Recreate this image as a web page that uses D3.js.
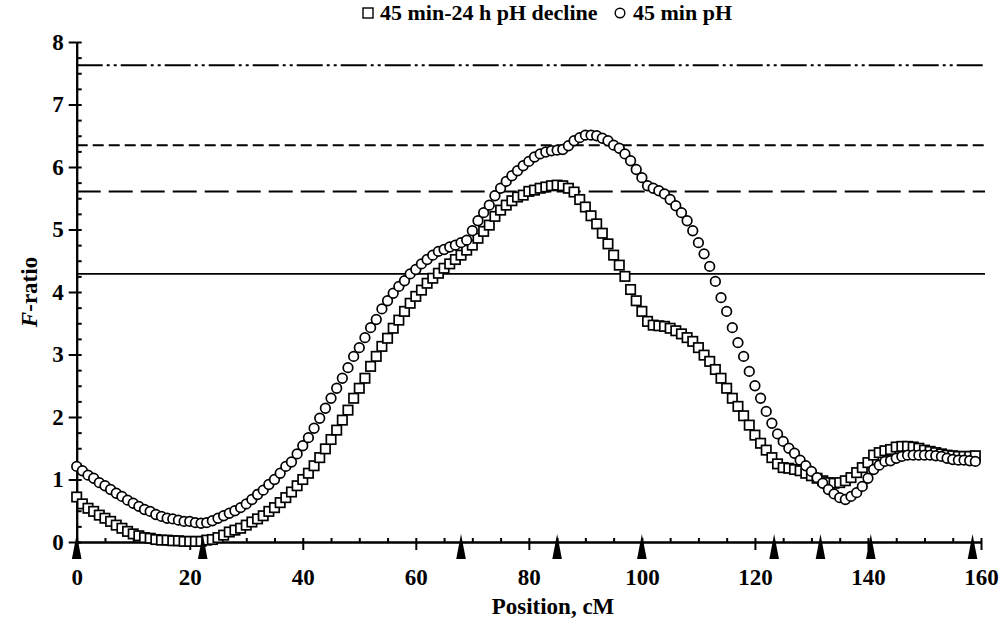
<!DOCTYPE html>
<html lang="en">
<head>
<meta charset="UTF-8">
<title>F-ratio by position</title>
<script src="https://d3js.org/d3.v7.min.js"></script>
<style>
  body { margin: 0; background: #fff; }
  svg text { font-family: "Liberation Serif", "Times New Roman", serif; font-weight: bold; fill: #000; }
</style>
</head>
<body>
<svg id="chart" width="1005" height="623"></svg>
<script>
// position along the chromosome, one marker per cM
const positions = d3.range(0, 160);

// 45 min-24 h pH decline (squares)
const declineF = [
  0.72, 0.61, 0.54, 0.49, 0.43, 0.38, 0.33, 0.27, 0.22, 0.17,
  0.13, 0.10, 0.07, 0.06, 0.04, 0.03, 0.03, 0.02, 0.02, 0.01,
  0.01, 0.01, 0.01, 0.03, 0.04, 0.07, 0.11, 0.16, 0.19, 0.22,
  0.27, 0.32, 0.37, 0.42, 0.49, 0.55, 0.63, 0.71, 0.80, 0.90,
  1.00, 1.10, 1.22, 1.35, 1.49, 1.64, 1.79, 1.95, 2.11, 2.30,
  2.46, 2.62, 2.81, 2.97, 3.13, 3.26, 3.42, 3.55, 3.69, 3.82,
  3.93, 4.03, 4.14, 4.22, 4.30, 4.38, 4.45, 4.52, 4.59, 4.67,
  4.75, 4.86, 4.97, 5.07, 5.21, 5.31, 5.39, 5.46, 5.52, 5.55,
  5.61, 5.63, 5.66, 5.68, 5.70, 5.71, 5.70, 5.66, 5.60, 5.48,
  5.36, 5.22, 5.09, 4.94, 4.77, 4.59, 4.43, 4.25, 4.04, 3.86,
  3.69, 3.53, 3.47, 3.46, 3.45, 3.42, 3.38, 3.33, 3.27, 3.21,
  3.11, 2.99, 2.89, 2.76, 2.62, 2.46, 2.30, 2.17, 2.02, 1.87,
  1.71, 1.58, 1.47, 1.35, 1.25, 1.19, 1.18, 1.16, 1.14, 1.10,
  1.06, 1.02, 0.98, 0.95, 0.94, 0.95, 0.98, 1.03, 1.11, 1.19,
  1.27, 1.39, 1.43, 1.46, 1.48, 1.52, 1.53, 1.53, 1.52, 1.50,
  1.47, 1.45, 1.43, 1.41, 1.39, 1.38, 1.37, 1.37, 1.37, 1.38
];

// 45 min pH (circles)
const ph45F = [
  1.21, 1.14, 1.07, 1.02, 0.95, 0.90, 0.84, 0.78, 0.73, 0.67,
  0.62, 0.57, 0.52, 0.49, 0.44, 0.41, 0.38, 0.37, 0.35, 0.33,
  0.33, 0.31, 0.30, 0.31, 0.34, 0.38, 0.42, 0.46, 0.50, 0.55,
  0.61, 0.68, 0.76, 0.83, 0.92, 1.00, 1.10, 1.21, 1.28, 1.41,
  1.54, 1.67, 1.82, 1.98, 2.14, 2.30, 2.46, 2.62, 2.79, 2.97,
  3.11, 3.27, 3.43, 3.56, 3.73, 3.86, 3.98, 4.09, 4.18, 4.29,
  4.36, 4.45, 4.52, 4.59, 4.65, 4.68, 4.72, 4.75, 4.79, 4.83,
  4.98, 5.14, 5.27, 5.39, 5.54, 5.66, 5.77, 5.86, 5.94, 6.02,
  6.09, 6.16, 6.21, 6.24, 6.26, 6.27, 6.28, 6.34, 6.42, 6.47,
  6.51, 6.51, 6.50, 6.46, 6.42, 6.35, 6.30, 6.21, 6.10, 5.96,
  5.83, 5.70, 5.66, 5.62, 5.57, 5.48, 5.38, 5.27, 5.14, 4.98,
  4.79, 4.61, 4.41, 4.17, 3.91, 3.69, 3.43, 3.19, 2.97, 2.73,
  2.50, 2.30, 2.09, 1.90, 1.73, 1.61, 1.50, 1.42, 1.31, 1.22,
  1.13, 1.03, 0.94, 0.84, 0.77, 0.71, 0.68, 0.73, 0.79, 0.89,
  1.02, 1.16, 1.23, 1.29, 1.30, 1.34, 1.37, 1.39, 1.39, 1.39,
  1.39, 1.39, 1.38, 1.37, 1.34, 1.32, 1.31, 1.31, 1.30, 1.29
];

// significance thresholds and their dash styles
const thresholds = [4.29, 5.61, 6.35, 7.63];
const thresholdDash = [null, "24,8", "11,5", "26,4,3,4,3,4"];

// marker loci along the axis (black triangles)
const markerLoci = [0, 22.3, 68, 85, 100, 123.4, 131.6, 140.5, 158.5];

const xTicks = [0, 20, 40, 60, 80, 100, 120, 140, 160];
const yTicks = [0, 1, 2, 3, 4, 5, 6, 7, 8];

const svg = d3.select("#chart");

const x = d3.scaleLinear().domain([0, 160]).range([76.7, 981]);
const y = d3.scaleLinear().domain([0, 8]).range([542, 42]);

// threshold lines
svg.selectAll("line.thr")
  .data(thresholds)
  .join("line")
  .attr("class", "thr")
  .attr("x1", x(0))
  .attr("x2", 985)
  .attr("y1", d => y(d))
  .attr("y2", d => y(d))
  .attr("stroke", "#000")
  .attr("stroke-width", (d, i) => i === 0 ? 1.6 : 2)
  .attr("stroke-dasharray", (d, i) => thresholdDash[i]);

// y axis: majors pointing out, minors pointing in
const yMajor = svg.append("g")
  .attr("transform", `translate(${x(0)},0)`)
  .call(d3.axisLeft(y).tickValues(yTicks).tickSize(8).tickSizeOuter(0).tickPadding(5).tickFormat(d3.format("d")));
svg.append("g")
  .attr("transform", `translate(${x(0)},0)`)
  .call(d3.axisRight(y).tickValues(d3.range(0, 8.01, 0.25)).tickSize(5).tickSizeOuter(0).tickFormat(""));

// x axis
const xMajor = svg.append("g")
  .attr("transform", `translate(0,${y(0)})`)
  .call(d3.axisBottom(x).tickValues(xTicks).tickSize(8).tickSizeOuter(0).tickFormat(d3.format("d")));
svg.append("g")
  .attr("transform", `translate(0,${y(0)})`)
  .call(d3.axisTop(x).tickValues(d3.range(0, 161, 5)).tickSize(4).tickSizeOuter(0).tickFormat(""));

svg.selectAll(".domain, .tick line").attr("stroke", "#000").attr("stroke-width", 2);

yMajor.attr("font-family", null).attr("font-size", null);
xMajor.attr("font-family", null).attr("font-size", null);
yMajor.selectAll("text").style("font-size", "23px");
xMajor.selectAll("text")
  .attr("y", 43).attr("dy", 0)
  .style("font-size", "23px");

// squares
const sq = 9.4;
svg.append("g")
  .selectAll("rect")
  .data(positions)
  .join("rect")
  .attr("x", d => x(d) - sq / 2)
  .attr("y", (d, i) => y(declineF[i]) - sq / 2)
  .attr("width", sq)
  .attr("height", sq)
  .attr("fill", "#fff")
  .attr("stroke", "#000")
  .attr("stroke-width", 1.7);

// circles
svg.append("g")
  .selectAll("circle")
  .data(positions)
  .join("circle")
  .attr("cx", d => x(d))
  .attr("cy", (d, i) => y(ph45F[i]))
  .attr("r", 4.8)
  .attr("fill", "#fff")
  .attr("stroke", "#000")
  .attr("stroke-width", 1.7);

// marker triangles
svg.append("g")
  .selectAll("path")
  .data(markerLoci)
  .join("path")
  .attr("d", d => `M${x(d) - 4.8},559L${x(d)},534L${x(d) + 4.8},559Z`)
  .attr("fill", "#000");

// axis titles
svg.append("text")
  .attr("x", 553)
  .attr("y", 614)
  .attr("text-anchor", "middle")
  .style("font-size", "23px")
  .text("Position, cM");

const yTitle = svg.append("text")
  .attr("transform", "translate(37,292) rotate(-90)")
  .attr("text-anchor", "middle")
  .style("font-size", "23px");
yTitle.append("tspan").style("font-style", "italic").text("F");
yTitle.append("tspan").text("-ratio");

// legend
const legend = svg.append("g");
legend.append("rect")
  .attr("x", 363).attr("y", 8).attr("width", 10).attr("height", 10)
  .attr("fill", "#fff").attr("stroke", "#000").attr("stroke-width", 1.4);
legend.append("text")
  .attr("x", 380).attr("y", 20)
  .style("font-size", "22px")
  .text("45 min-24 h pH decline");
legend.append("circle")
  .attr("cx", 620).attr("cy", 13).attr("r", 4.8)
  .attr("fill", "#fff").attr("stroke", "#000").attr("stroke-width", 1.4);
legend.append("text")
  .attr("x", 633).attr("y", 20)
  .style("font-size", "22px")
  .text("45 min pH");
</script>
</body>
</html>
